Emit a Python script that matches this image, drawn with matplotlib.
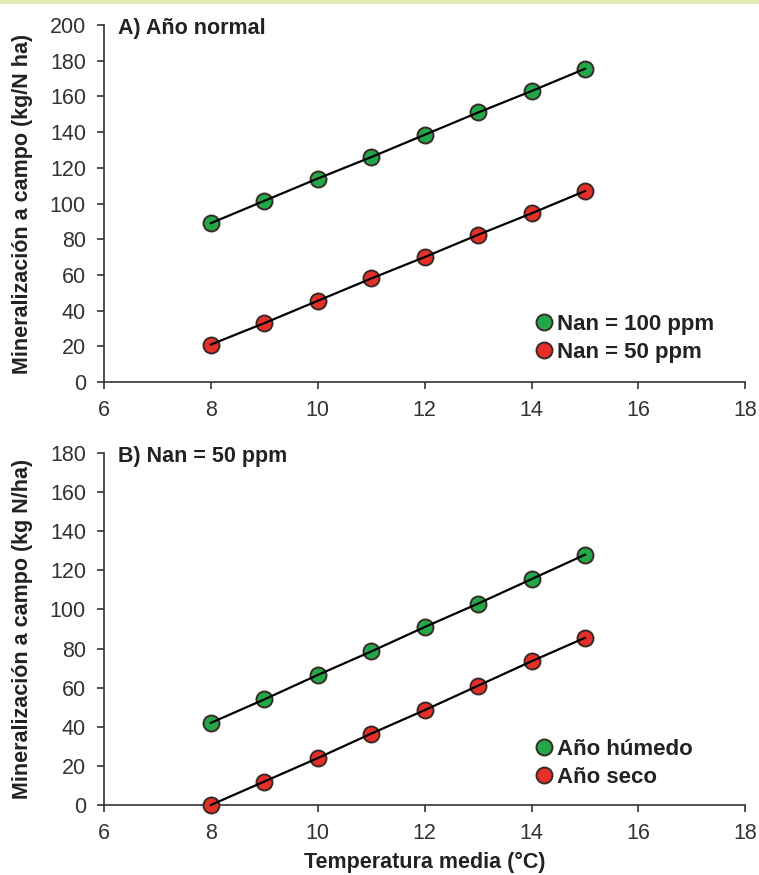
import numpy as np
import matplotlib.pyplot as plt
from matplotlib.patches import Rectangle

plt.rcParams['font.family'] = ['Liberation Sans', 'DejaVu Sans']

# Data
temp = [8, 9, 10, 11, 12, 13, 14, 15]

# A) Año normal
nan100 = [89, 101.5, 114, 126, 138.5, 151, 163, 175.5]
nan50 = [21, 33, 45.5, 58, 70, 82.5, 94.5, 107]

# B) Nan = 50 ppm
humedo = [42, 54, 66.5, 78.5, 91, 103, 115.5, 128]
seco = [0, 12, 24, 36.5, 48.5, 61, 73.5, 85.5]

green = '#22a84a'
red = '#e5302a'
edge = '#3a2a26'

fig = plt.figure(figsize=(7.59, 8.75), dpi=100)
fig.patches.append(Rectangle((0, 0.9965), 1, 0.0035, transform=fig.transFigure,
                             color='#e4e9b4', zorder=0))

ax1 = fig.add_axes([0.137, 0.5634, 0.845, 0.408])
ax2 = fig.add_axes([0.137, 0.080, 0.845, 0.4023])


def panel(ax, s1, s2, lab1, lab2, title, ymax, ylabel, legy):
    for s, c, lab in [(s1, green, lab1), (s2, red, lab2)]:
        ax.plot(temp, s, 'o', ms=11.5, mfc=c, mec=edge, mew=1.4, zorder=3, label=lab,
                clip_on=False)
        ax.plot(temp, s, color='black', lw=1.6, zorder=4, clip_on=False)
    ax.set_xlim(6, 18)
    ax.set_ylim(0, ymax)
    ax.set_xticks(np.arange(6, 19, 2))
    ax.set_yticks(np.arange(0, ymax + 1, 20))
    for side in ['top', 'right']:
        ax.spines[side].set_visible(False)
    for side in ['left', 'bottom']:
        ax.spines[side].set_color('#333333')
        ax.spines[side].set_linewidth(1.2)
    ax.tick_params(direction='out', length=5, width=1.2, color='#333333', pad=8,
                   labelsize=15.5, labelcolor='#333333')
    ax.set_ylabel(ylabel, fontsize=15.5, fontweight='bold', color='#222222', labelpad=12)
    ax.text(0.022, 0.99, title, transform=ax.transAxes, fontsize=15.5,
            fontweight='bold', color='#222222', va='center', ha='left')
    leg = ax.legend(loc='lower left', bbox_to_anchor=(0.655, legy), frameon=False,
                    fontsize=16, handletextpad=0.0, labelspacing=0.3,
                    borderaxespad=0, handlelength=1.2, borderpad=0.3)
    for t in leg.get_texts():
        t.set_fontweight('bold')
        t.set_color('#222222')


panel(ax1, nan100, nan50, 'Nan = 100 ppm', 'Nan = 50 ppm', 'A) Año normal', 200,
      'Mineralización a campo (kg/N ha)', 0.035)
panel(ax2, humedo, seco, 'Año húmedo', 'Año seco', 'B) Nan = 50 ppm', 180,
      'Mineralización a campo (kg N/ha)', 0.03)
ax2.set_xlabel('Temperatura media (°C)', fontsize=15.5, fontweight='bold', color='#222222',
               labelpad=6)

fig.savefig('out.png', dpi=100)
